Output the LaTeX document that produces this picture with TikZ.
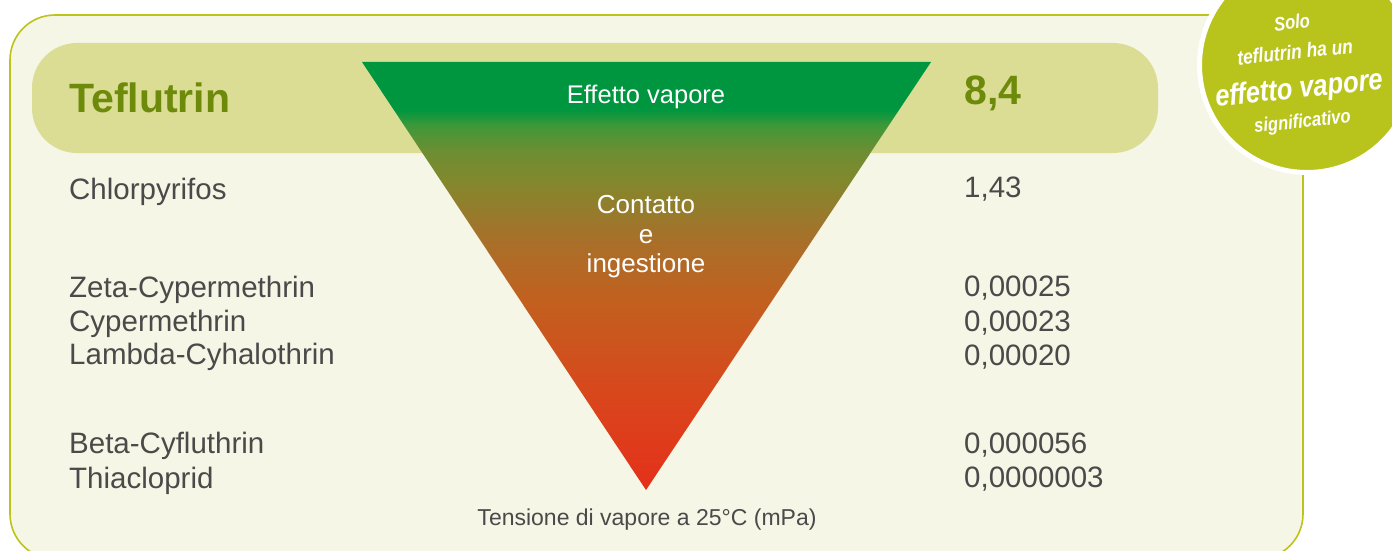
\documentclass[tikz,border=0pt]{standalone}
\usepackage{fontspec}
\setmainfont{Liberation Sans}
\definecolor{boxfill}{HTML}{F5F6E6}
\definecolor{boxline}{HTML}{BCC41C}
\definecolor{bandfill}{HTML}{DADD93}
\definecolor{darkolive}{HTML}{6E8A0A}
\definecolor{txtgray}{HTML}{4A4A4A}
\definecolor{circfill}{HTML}{B8C41B}
\definecolor{tgreen}{HTML}{009640}
\definecolor{tred}{HTML}{E4301A}
\definecolor{tca}{HTML}{DA451C}
\definecolor{tcb}{HTML}{C2601F}
\definecolor{tcc}{HTML}{A8702A}
\definecolor{tcd}{HTML}{82882D}
\definecolor{tce}{HTML}{6C8E33}
\definecolor{tcf}{HTML}{3E9838}
\pgfdeclareverticalshading{trishade}{100bp}{color(0bp)=(tred); color(25bp)=(tred); color(35.5bp)=(tca); color(47.2bp)=(tcb); color(54.2bp)=(tcc); color(61.2bp)=(tcd); color(64.7bp)=(tce); color(67.6bp)=(tcf); color(69.4bp)=(tgreen); color(100bp)=(tgreen)}
\begin{document}
\begin{tikzpicture}[x=1pt,y=-1pt,
  chemname/.style={anchor=base west, inner sep=0pt, text=txtgray, font=\fontsize{29.5}{33}\selectfont},
  chemval/.style={anchor=base west, inner sep=0pt, text=txtgray, font=\fontsize{29.5}{33}\selectfont},
  bigtxt/.style={anchor=base west, inner sep=0pt, text=darkolive, font=\fontsize{41}{45}\selectfont\bfseries},
  tritext/.style={anchor=base, inner sep=0pt, text=white, font=\fontsize{26}{30}\selectfont},
  badgetxt/.style={anchor=base, inner sep=0pt, text=white, xscale=0.85}]
\useasboundingbox (0,0) rectangle (1392,551);
\begin{scope}
  \clip (0,0) rectangle (1392,551);
  \draw[boxline, fill=boxfill, line width=1.6pt, rounded corners=45pt] (10,15) rectangle (1303,559);
\end{scope}
% band
\fill[bandfill, rounded corners=45pt] (32,43) rectangle (1158,153);
% triangle
\shade[shading=trishade] (362,62) -- (931,62) -- (646,490) -- cycle;
% labels in triangle
\node[tritext, font=\fontsize{25.5}{30}\selectfont] (effetto) at (646,103) {Effetto vapore};
\node[tritext] (contatto) at (646,213) {Contatto};
\node[tritext] (e) at (646,243) {e};
\node[tritext] (ingestione) at (646,272) {ingestione};
% left names
\node[bigtxt] (teflutrin) at (69,112) {Teflutrin};
\node[chemname] (chlor) at (69,199) {Chlorpyrifos};
\node[chemname] (zeta) at (69,297) {Zeta-Cypermethrin};
\node[chemname] (cyper) at (69,331) {Cypermethrin};
\node[chemname] (lambda) at (69,364) {Lambda-Cyhalothrin};
\node[chemname] (beta) at (69,453) {Beta-Cyfluthrin};
\node[chemname] (thia) at (69,488) {Thiacloprid};
% values
\node[bigtxt] (vteflutrin) at (964,104) {8,4};
\node[chemval] (vchlor) at (964,197) {1,43};
\node[chemval] (vzeta) at (964,296) {0,00025};
\node[chemval] (vcyper) at (964,331) {0,00023};
\node[chemval] (vlambda) at (964,365) {0,00020};
\node[chemval] (vbeta) at (964,453) {0,000056};
\node[chemval] (vthia) at (964,487) {0,0000003};
% axis caption
\node[anchor=base, inner sep=0pt, text=txtgray, font=\fontsize{23}{26}\selectfont] (caption) at (647,525) {Tensione di vapore a 25°C (mPa)};
% badge
\node[circle, fill=circfill, draw=white, line width=5pt, minimum size=215pt, inner sep=0pt] (badge) at (1307,65) {};
\begin{scope}[rotate around={6:(1298,80)}, transform shape]
  \node[badgetxt, font=\bfseries\itshape\fontsize{19.5}{20}\selectfont] (solo) at (1298,29) {Solo};
  \node[badgetxt, font=\bfseries\itshape\fontsize{20.5}{22}\selectfont] (tefl) at (1298,59) {teflutrin ha un};
  \node[badgetxt, font=\bfseries\itshape\fontsize{30}{32}\selectfont] (effv) at (1298,98) {effetto vapore};
  \node[badgetxt, font=\bfseries\itshape\fontsize{19.5}{20}\selectfont] (signif) at (1298,128) {significativo};
\end{scope}
\end{tikzpicture}
\end{document}
